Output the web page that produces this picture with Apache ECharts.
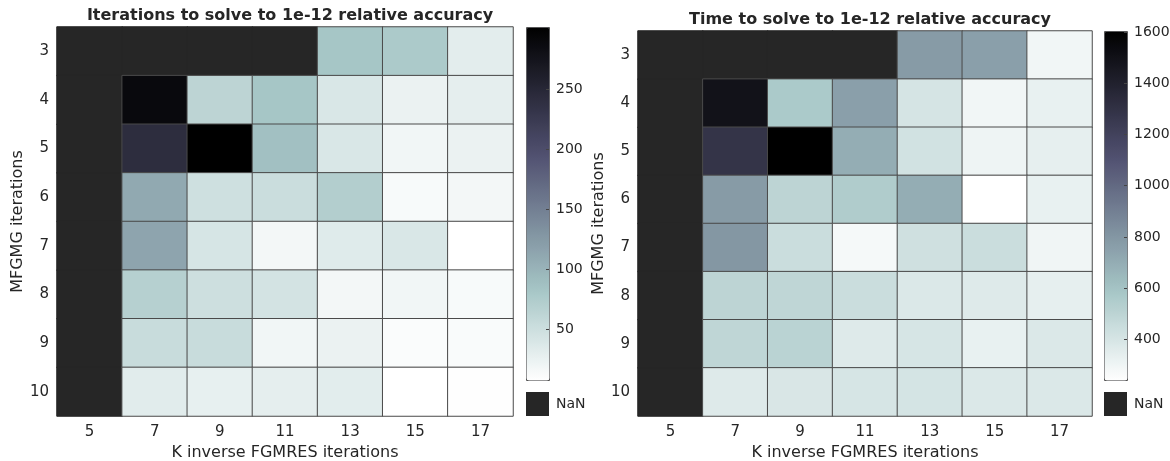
<!DOCTYPE html>
<html>
<head>
<meta charset="utf-8">
<script src="https://cdn.jsdelivr.net/npm/echarts@6/dist/echarts.min.js"></script>
<style>
html,body{margin:0;padding:0;background:#fff;}
#chart{width:1170px;height:461px;}
</style>
</head>
<body>
<div id="chart"></div>
<script>
// ---- data ----
const kValues = ['5', '7', '9', '11', '13', '15', '17'];
const mfgmgValues = ['3', '4', '5', '6', '7', '8', '9', '10'];

// rows: MFGMG 3..10, columns: K 5..17 ; null = NaN
const iterRow3  = [null, null, null, null, 83, 78, 31];
const iterRow4  = [null, 290, 64, 83, 40, 25, 30];
const iterRow5  = [null, 243, 302, 88, 40, 20, 25];
const iterRow6  = [null, 111, 49, 53, 72, 15, 18];
const iterRow7  = [null, 115, 43, 18, 35, 40, 8];
const iterRow8  = [null, 70, 50, 45, 18, 20, 15];
const iterRow9  = [null, 55, 55, 20, 25, 12, 13];
const iterRow10 = [null, 33, 28, 30, 32, 8, 9];

const timeRow3  = [null, null, null, null, 780, 760, 296];
const timeRow4  = [null, 1495, 568, 760, 405, 296, 330];
const timeRow5  = [null, 1290, 1604, 700, 420, 305, 340];
const timeRow6  = [null, 780, 500, 550, 700, 241, 330];
const timeRow7  = [null, 800, 450, 280, 430, 450, 300];
const timeRow8  = [null, 500, 490, 450, 380, 370, 340];
const timeRow9  = [null, 490, 510, 370, 400, 330, 380];
const timeRow10 = [null, 370, 390, 400, 410, 380, 380];

const iterRange = [8, 302];
const timeRange = [241, 1604];
const iterTicks = [50, 100, 150, 200, 250];
const timeTicks = [400, 600, 800, 1000, 1200, 1400, 1600];

const titleLeft = 'Iterations to solve to 1e-12 relative accuracy';
const titleRight = 'Time to solve to 1e-12 relative accuracy';
const xTitle = 'K inverse FGMRES iterations';
const yTitle = 'MFGMG iterations';

// ---- helpers ----
const iterRows = [iterRow3, iterRow4, iterRow5, iterRow6, iterRow7, iterRow8, iterRow9, iterRow10];
const timeRows = [timeRow3, timeRow4, timeRow5, timeRow6, timeRow7, timeRow8, timeRow9, timeRow10];

function toCells(rows) {
  const ok = [], nan = [];
  rows.forEach((row, yi) => row.forEach((v, xi) => {
    if (v === null) nan.push([xi, yi, -1]); else ok.push([xi, yi, v]);
  }));
  return {ok, nan};
}
const iterCells = toCells(iterRows);
const timeCells = toCells(timeRows);

// matplotlib 'bone' colormap (reversed for use)
function interp(s, pts) {
  for (let i = 1; i < pts.length; i++) {
    if (s <= pts[i][0]) {
      const a = pts[i - 1], b = pts[i];
      return a[1] + (s - a[0]) / (b[0] - a[0]) * (b[1] - a[1]);
    }
  }
  return pts[pts.length - 1][1];
}
function bone(s) {
  const r = interp(s, [[0, 0], [0.746032, 0.652778], [1, 1]]);
  const g = interp(s, [[0, 0], [0.365079, 0.319444], [0.746032, 0.777778], [1, 1]]);
  const b = interp(s, [[0, 0], [0.365079, 0.444444], [1, 1]]);
  return 'rgb(' + Math.round(r * 255) + ',' + Math.round(g * 255) + ',' + Math.round(b * 255) + ')';
}
const boneR = [];
for (let i = 0; i < 64; i++) boneR.push(bone(1 - i / 63));

const FONT = 'DejaVu Sans';
const TXT = '#262626';
const NAN_COLOR = '#262626';

const L = {left: 57, top: 27, width: 456, height: 389, cbLeft: 526, cbTop: 27, cbH: 353};
const R = {left: 638, top: 31, width: 454, height: 385, cbLeft: 1104, cbTop: 31, cbH: 349};
const CBW = 23;

function heatAxes(idx) {
  return {
    x: {
      type: 'category', gridIndex: idx, data: kValues,
      axisLine: {show: false}, axisTick: {show: false}, splitLine: {show: false},
      axisLabel: {fontFamily: FONT, fontSize: 15, color: TXT, margin: 9},
      name: xTitle, nameLocation: 'middle', nameGap: 29,
      nameTextStyle: {fontFamily: FONT, fontSize: 16, color: TXT}
    },
    y: {
      type: 'category', gridIndex: idx, data: mfgmgValues, inverse: true,
      axisLine: {show: false}, axisTick: {show: false}, splitLine: {show: false},
      axisLabel: {fontFamily: FONT, fontSize: 15, color: TXT, margin: 8},
      name: yTitle, nameLocation: 'middle', nameGap: 30,
      nameTextStyle: {fontFamily: FONT, fontSize: 16, color: TXT}
    }
  };
}
const axL = heatAxes(0), axR = heatAxes(1);

// colorbar tick axis: a 1px-wide grid sitting on the colorbar's right edge
function cbAxes(range, ticks, idx) {
  return {
    x: {type: 'value', gridIndex: idx, show: false},
    y: {
      type: 'value', gridIndex: idx, min: range[0], max: range[1], position: 'left', z: 10,
      axisLine: {show: false}, splitLine: {show: false},
      axisTick: {show: true, inside: false, length: 3, customValues: ticks, lineStyle: {color: '#444'}},
      axisLabel: {customValues: ticks, inside: true, fontFamily: FONT, fontSize: 14, color: TXT, margin: 7,
                  formatter: function (v) { return String(v); }}
    }
  };
}
const cbL = cbAxes(iterRange, iterTicks, 2), cbR = cbAxes(timeRange, timeTicks, 3);

const cellStyle = {borderColor: '#4a4a4a', borderWidth: 1};
const nanStyle = {borderColor: NAN_COLOR, borderWidth: 1};

function nanLegend(left, seriesIndex) {
  return {type: 'piecewise', seriesIndex: seriesIndex,
    pieces: [{value: -1, label: 'NaN', color: NAN_COLOR}],
    itemSymbol: 'rect', itemWidth: CBW, itemHeight: 24, itemGap: 0, textGap: 7, align: 'left',
    selectedMode: false, hoverLink: false, left: left, top: 392, padding: 0,
    textStyle: {fontFamily: FONT, fontSize: 14, color: TXT}};
}
function colorbar(range, left, top, h, seriesIndex) {
  return {type: 'continuous', seriesIndex: seriesIndex, min: range[0], max: range[1],
    calculable: false, hoverLink: false, text: ['', ''], showLabel: false,
    orient: 'vertical', left: left, top: top, itemWidth: CBW, itemHeight: h,
    padding: 0, borderColor: '#555', borderWidth: 1, z: 4,
    inRange: {color: boneR}};
}
function grid(left, top, width, height) {
  return {left: left, top: top, width: width, height: height, outerBoundsMode: 'none', containLabel: false};
}

const option = {
  backgroundColor: '#fff',
  animation: false,
  title: [
    {text: titleLeft, left: L.left + L.width / 2, top: 3, textAlign: 'center',
     textStyle: {fontFamily: FONT, fontSize: 16, fontWeight: 'bold', color: TXT}},
    {text: titleRight, left: R.left + R.width / 2, top: 7, textAlign: 'center',
     textStyle: {fontFamily: FONT, fontSize: 16, fontWeight: 'bold', color: TXT}}
  ],
  grid: [
    grid(L.left, L.top, L.width, L.height),
    grid(R.left, R.top, R.width, R.height),
    grid(L.cbLeft + CBW, L.cbTop, 1, L.cbH),
    grid(R.cbLeft + CBW, R.cbTop, 1, R.cbH)
  ],
  xAxis: [axL.x, axR.x, cbL.x, cbR.x],
  yAxis: [axL.y, axR.y, cbL.y, cbR.y],
  visualMap: [
    colorbar(iterRange, L.cbLeft, L.cbTop, L.cbH, 0),
    colorbar(timeRange, R.cbLeft, R.cbTop, R.cbH, 2),
    nanLegend(L.cbLeft, 1),
    nanLegend(R.cbLeft, 3)
  ],
  series: [
    {type: 'heatmap', xAxisIndex: 0, yAxisIndex: 0, data: iterCells.ok, itemStyle: cellStyle,
     emphasis: {disabled: true}, z: 3},
    {type: 'heatmap', xAxisIndex: 0, yAxisIndex: 0, data: iterCells.nan,
     itemStyle: nanStyle, emphasis: {disabled: true}, z: 2},
    {type: 'heatmap', xAxisIndex: 1, yAxisIndex: 1, data: timeCells.ok, itemStyle: cellStyle,
     emphasis: {disabled: true}, z: 3},
    {type: 'heatmap', xAxisIndex: 1, yAxisIndex: 1, data: timeCells.nan,
     itemStyle: nanStyle, emphasis: {disabled: true}, z: 2}
  ]
};

const chart = echarts.init(document.getElementById('chart'), null, {renderer: 'canvas'});
chart.setOption(option);
</script>
</body>
</html>
